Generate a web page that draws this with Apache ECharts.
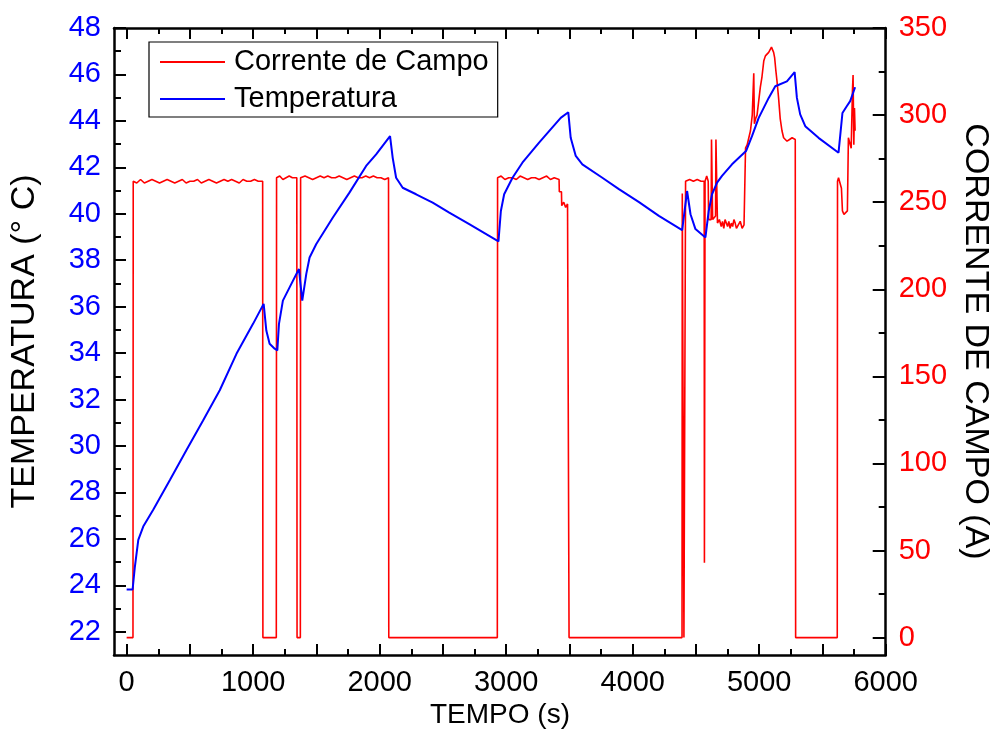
<!DOCTYPE html>
<html><head><meta charset="utf-8">
<script src="https://cdn.jsdelivr.net/npm/echarts@6/dist/echarts.min.js"></script>
<style>html,body{margin:0;padding:0;background:#fff}#c{width:1000px;height:731px}</style>
</head><body><div id="c"></div>
<script>
// ---- data ----
const seriesNames = ['Corrente de Campo', 'Temperatura'];
const xTitle = 'TEMPO (s)';
const yLeftTitle = 'TEMPERATURA (° C)';
const yRightTitle = 'CORRENTE DE CAMPO (A)';
// Corrente de Campo: [tempo (s), corrente (A)]
const current = [[0,0],[50,0],[52,262],[80,261],[110,263],[140,261],[170,262],[200,263],[230,262],[260,261],[290,262],[320,263],[350,262],[380,261],[410,262],[440,263],[470,261],[500,262],[530,262],[560,263],[590,261],[620,262],[650,263],[680,262],[710,261],[740,262],[770,263],[800,262],[830,263],[860,262],[890,261],[920,263],[950,262],[980,262],[1010,263],[1040,262],[1075,262],[1077,0],[1183,0],[1185,264],[1210,265],[1235,263],[1260,264],[1285,265],[1310,264],[1345,264],[1347,0],[1373,0],[1375,264],[1410,265],[1440,264],[1470,263],[1500,264],[1530,265],[1560,264],[1590,265],[1620,264],[1650,264],[1680,265],[1710,264],[1740,263],[1770,264],[1800,265],[1830,264],[1860,264],[1890,265],[1920,264],[1950,265],[1980,264],[2010,264],[2040,263],[2070,264],[2072,0],[2930,0],[2932,264],[2960,265],[2990,263],[3020,264],[3050,264],[3080,263],[3110,265],[3140,264],[3170,263],[3200,264],[3230,264],[3260,263],[3290,264],[3320,265],[3350,263],[3380,264],[3418,263],[3420,256],[3437,256],[3439,248],[3455,250],[3470,247],[3485,249],[3495,249],[3497,0],[4390,0],[4392,255],[4403,255],[4405,0],[4416,0],[4418,262],[4450,263],[4480,262],[4510,263],[4540,262],[4565,262],[4567,43],[4570,43],[4572,262],[4585,265],[4597,262],[4600,240],[4620,240],[4623,286],[4628,286],[4632,240],[4655,242],[4658,286],[4666,286],[4670,238],[4685,240],[4700,236],[4710,239],[4720,235],[4730,240],[4740,238],[4750,236],[4760,239],[4770,235],[4780,238],[4790,236],[4800,240],[4810,238],[4820,235],[4835,237],[4850,239],[4865,235],[4880,237],[4890,238],[4892,281],[4905,283],[4918,287],[4931,291],[4945,300],[4957,324],[4962,295],[4972,298],[4983,300],[4996,308],[5009,316],[5022,322],[5036,331],[5049,334],[5062,335],[5075,336],[5088,337],[5097,339],[5106,340],[5114,336],[5122,333],[5131,326],[5140,320],[5153,310],[5166,298],[5180,291],[5193,287],[5206,286],[5220,285],[5240,286],[5260,287],[5285,286],[5288,0],[5617,0],[5619,262],[5627,264],[5637,263],[5650,258],[5658,245],[5670,243],[5683,244],[5697,245],[5705,287],[5719,287],[5727,281],[5737,314],[5742,323],[5748,283],[5753,304],[5758,291]];
// Temperatura: [tempo (s), temperatura (°C)]
const temperature = [[0,23.82],[47,23.82],[65,24.8],[92,25.96],[131,26.53],[210,27.25],[342,28.54],[473,29.83],[604,31.1],[736,32.4],[868,33.97],[999,35.26],[1083,36.12],[1104,34.97],[1130,34.4],[1170,34.19],[1191,34.12],[1204,35.26],[1235,36.26],[1288,36.83],[1362,37.62],[1388,36.26],[1420,37.41],[1446,38.12],[1499,38.7],[1630,39.84],[1761,40.91],[1893,42.06],[1972,42.56],[2082,43.34],[2103,42.41],[2130,41.55],[2182,41.12],[2288,40.84],[2419,40.48],[2550,40.05],[2708,39.55],[2939,38.81],[2958,40.12],[2984,40.84],[3050,41.55],[3128,42.2],[3260,43.06],[3431,44.13],[3491,44.37],[3510,43.27],[3550,42.49],[3602,42.13],[3760,41.55],[3891,41.06],[4050,40.5],[4207,39.91],[4391,39.3],[4430,40.98],[4457,39.98],[4496,39.34],[4575,38.98],[4601,40.12],[4627,40.84],[4667,41.34],[4706,41.63],[4785,42.13],[4896,42.7],[4943,43.34],[4996,44.13],[5075,44.99],[5127,45.49],[5219,45.7],[5280,46.1],[5298,44.99],[5324,44.28],[5364,43.77],[5469,43.27],[5627,42.63],[5658,44.34],[5692,44.63],[5719,44.85],[5758,45.45]];
// tick values
const xLabels = [0,1000,2000,3000,4000,5000,6000];
const xMajor = [0,500,1000,1500,2000,2500,3000,3500,4000,4500,5000,5500,6000];
const xMinor = [250,750,1250,1750,2250,2750,3250,3750,4250,4750,5250,5750];
const tLabels = [22,24,26,28,30,32,34,36,38,40,42,44,46,48];
const tMinor = [23,25,27,29,31,33,35,37,39,41,43,45,47];
const aLabels = [0,50,100,150,200,250,300,350];
const aMinor = [25,75,125,175,225,275,325];

const FONT = 'Liberation Sans, Arial, sans-serif';
const plain = v => String(v);

function xAxisDef(pos, vals, len, showLabel, showLine){
  return {type:'value', position:pos, min:-100, max:6000,
    axisLine:{show:showLine, onZero:false, lineStyle:{color:'#000',width:2.5}},
    axisTick:{show:true, inside:true, length:len, customValues:vals, lineStyle:{color:'#000',width:2}},
    axisLabel:{show:showLabel, customValues:xLabels, formatter:plain, color:'#000', fontFamily:FONT, fontSize:29, margin:13},
    splitLine:{show:false}};
}
function yAxisDef(pos, min, max, labels, vals, len, color, showLabel, showLine, name, gap){
  return {type:'value', position:pos, min:min, max:max,
    name: name||'', nameLocation:'middle', nameGap: gap||60, nameRotate: pos==='left'?90:-90,
    nameTextStyle:{color:'#000', fontFamily:FONT, fontSize:34},
    axisLine:{show:showLine, onZero:false, lineStyle:{color:'#000',width:2.5}},
    axisTick:{show:true, inside:true, length:len, customValues:vals, lineStyle:{color:'#000',width:2}},
    axisLabel:{show:showLabel, customValues:labels, formatter:plain, color:color, fontFamily:FONT, fontSize:29, margin:13},
    splitLine:{show:false}};
}

const chart = echarts.init(document.getElementById('c'), null, {renderer:'canvas'});
chart.setOption({
  animation:false,
  backgroundColor:'#fff',
  grid:{left:114, right:112, top:28, bottom:76, containLabel:false},
  legend:{orient:'vertical', left:149, top:42, data:seriesNames,
    backgroundColor:'#fff', borderColor:'#000', borderWidth:1.2, padding:[5,9,3,11],
    itemWidth:65, itemHeight:2, itemGap:7, icon:'rect',
    textStyle:{fontFamily:FONT, fontSize:29, color:'#000', lineHeight:30, padding:[0,0,0,4]}},
  xAxis:[
    xAxisDef('bottom', xMajor, 11, true, true),
    xAxisDef('bottom', xMinor, 6, false, false),
    xAxisDef('top', xMajor, 11, false, true),
    xAxisDef('top', xMinor, 6, false, false)
  ],
  yAxis:[
    yAxisDef('left', 21, 48, tLabels, tLabels, 12, '#0000ff', true, true, yLeftTitle, 72),
    yAxisDef('left', 21, 48, tLabels, tMinor, 7, '#0000ff', false, false),
    yAxisDef('right', -10, 350, aLabels, aLabels, 13, '#ff0000', true, true, yRightTitle, 72),
    yAxisDef('right', -10, 350, aLabels, aMinor, 7, '#ff0000', false, false)
  ],
  graphic:[{type:'text', x:500, y:715, style:{text:xTitle, fontFamily:FONT, fontSize:28, fill:'#000', textAlign:'center', textVerticalAlign:'middle'}}],
  series:[
    {name:seriesNames[0], type:'line', xAxisIndex:0, yAxisIndex:2, data:current,
      showSymbol:false, symbol:'none', lineStyle:{color:'#ff0000', width:1.6}, itemStyle:{color:'#ff0000'}, z:2},
    {name:seriesNames[1], type:'line', xAxisIndex:0, yAxisIndex:0, data:temperature,
      showSymbol:false, symbol:'none', smooth:false, lineStyle:{color:'#0000ff', width:2}, itemStyle:{color:'#0000ff'}, z:3}
  ]
});
</script></body></html>
